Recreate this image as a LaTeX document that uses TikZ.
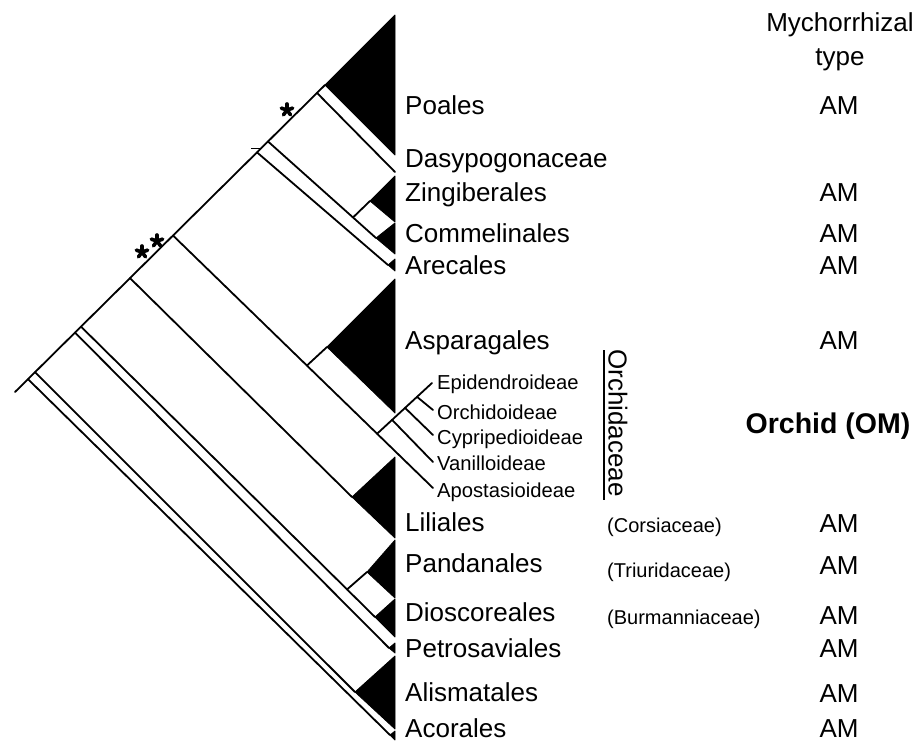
\documentclass[tikz,border=0pt]{standalone}
\usepackage{fontspec}
\setmainfont{Liberation Sans}
\usetikzlibrary{calc}
\begin{document}
\begin{tikzpicture}[x=1pt,y=-1pt,
  br/.style={line width=1.8pt, line cap=round, line join=round},
  tri/.style={fill=black, draw=black, line width=0.8pt, line join=round},
  lab/.style={anchor=base west, inner sep=0pt, font=\fontsize{26}{30}\selectfont},
  am/.style={anchor=base, inner sep=0pt, font=\fontsize{26}{30}\selectfont},
  sublab/.style={anchor=base west, inner sep=0pt, font=\fontsize{20.2}{23}\selectfont},
  famlab/.style={anchor=base west, inner sep=0pt, font=\fontsize{20}{24}\selectfont},
  aster/.pic={\foreach \a in {-90,-18,54,126,198}{\draw[line width=3.6pt, line cap=round] (0,0) -- (\a:6);}}
]
\useasboundingbox (0,0) rectangle (924,742);
% backbone
\coordinate (root) at (15,392);
\coordinate (aPoa) at (325,85);
\coordinate (nAco) at ($(root)!0.0419!(aPoa)$);
\coordinate (nAli) at ($(root)!0.0645!(aPoa)$);
\coordinate (nPet) at ($(root)!0.1935!(aPoa)$);
\coordinate (nPD)  at ($(root)!0.2129!(aPoa)$);
\coordinate (nLil) at ($(root)!0.3710!(aPoa)$);
\coordinate (nAsp) at ($(root)!0.5097!(aPoa)$);
\coordinate (nAre) at ($(root)!0.7806!(aPoa)$);
\coordinate (nZC)  at ($(root)!0.8161!(aPoa)$);
\coordinate (nDas) at ($(root)!0.9742!(aPoa)$);
% tips and apices
\coordinate (tAco) at (390,735);
\coordinate (aAli) at (355,692);
\coordinate (tPet) at (389,648);
\coordinate (aDio) at (375,617);
\coordinate (aPan) at (367,572);
\coordinate (aLil) at (352,497);
\coordinate (aAsp) at (327,347);
\coordinate (tApo) at (433,488);
\coordinate (tEpi) at (432,383);
\coordinate (tOrd) at (433,410);
\coordinate (tCyp) at (433,435);
\coordinate (tVan) at (433,462);
\coordinate (tAre) at (388,265);
\coordinate (aZin) at (370,201);
\coordinate (aCom) at (376,238);
\coordinate (tDas) at (395,172);
% inner nodes
\coordinate (xPD)  at ($(nPD)!0.905!(aDio)$);
\coordinate (xAsp) at ($(nAsp)!0.515!(tApo)$);
\coordinate (xOrc) at ($(nAsp)!0.785!(tApo)$);
\coordinate (xVan) at ($(xOrc)!0.273!(tEpi)$);
\coordinate (xCyp) at ($(xOrc)!0.509!(tEpi)$);
\coordinate (xOrd) at ($(xOrc)!0.727!(tEpi)$);
\coordinate (xZC)  at ($(nZC)!0.787!(aCom)$);

% triangles
\draw[tri] (aPoa) -- (395,15) -- (395,155) -- cycle;
\draw[tri] (aZin) -- (395,176) -- (395,222) -- cycle;
\draw[tri] (aCom) -- (395,223) -- (395,254) -- cycle;
\draw[tri] (tAre) -- (395,259) -- (395,271) -- cycle;
\draw[tri] (aAsp) -- (395,279) -- (395,413) -- cycle;
\draw[tri] (aLil) -- (395,457) -- (395,538) -- cycle;
\draw[tri] (aPan) -- (395,540) -- (395,598) -- cycle;
\draw[tri] (aDio) -- (395,599) -- (395,637) -- cycle;
\draw[tri] (tPet) -- (395,643) -- (395,653) -- cycle;
\draw[tri] (aAli) -- (395,656) -- (395,729) -- cycle;
\draw[tri] (tAco) -- (395,731) -- (395,740) -- cycle;

% branches
\draw[br] (root) -- (aPoa);
\draw[br] (nAco) -- (tAco);
\draw[br] (nAli) -- (aAli);
\draw[br] (nPet) -- (tPet);
\draw[br] (nPD) -- (aDio);
\draw[br] (xPD) -- (aPan);
\draw[br] (nLil) -- (aLil);
\draw[br] (nAsp) -- (tApo);
\draw[br] (xAsp) -- (aAsp);
\draw[br] (xOrc) -- (tEpi);
\draw[br] (xOrd) -- (tOrd);
\draw[br] (xCyp) -- (tCyp);
\draw[br] (xVan) -- (tVan);
\draw[br] (nAre) -- (tAre);
\draw[br] (nZC) -- (aCom);
\draw[br] (xZC) -- (aZin);
\draw[br] (nDas) -- (tDas);
\draw[line width=1pt] (251,148) -- (260,148);

% asterisks
\pic at (287,110) {aster};
\pic at (142,252) {aster};
\pic at (157,241) {aster};

% order labels
\node[lab] (lPoa) at (405,114) {Poales};
\node[lab] (lDas) at (405,167) {Dasypogonaceae};
\node[lab] (lZin) at (405,201) {Zingiberales};
\node[lab] (lCom) at (405,242) {Commelinales};
\node[lab] (lAre) at (405,274) {Arecales};
\node[lab] (lAsp) at (405,349) {Asparagales};
\node[lab] (lLil) at (405,531) {Liliales};
\node[lab] (lPan) at (405,572) {Pandanales};
\node[lab] (lDio) at (405,621) {Dioscoreales};
\node[lab] (lPet) at (405,657) {Petrosaviales};
\node[lab] (lAli) at (405,701) {Alismatales};
\node[lab] (lAco) at (405,737) {Acorales};

% orchid subfamilies
\node[sublab] (lEpi) at (437,389) {Epidendroideae};
\node[sublab] (lOrd) at (437,419) {Orchidoideae};
\node[sublab] (lCyp) at (437,444) {Cypripedioideae};
\node[sublab] (lVan) at (437,470) {Vanilloideae};
\node[sublab] (lApo) at (437,497) {Apostasioideae};

% Orchidaceae bar
\coordinate (barT) at (604,350);
\coordinate (barB) at (604,500);
\draw[line width=2.4pt] (barT) -- (barB);
\node[rotate=-90, inner sep=0pt, font=\fontsize{26}{30}\selectfont] (lOrc) at (618,423) {Orchidaceae};

% families in parentheses
\node[famlab] (lCor) at (607,532) {(Corsiaceae)};
\node[famlab] (lTri) at (607,577) {(Triuridaceae)};
\node[famlab] (lBur) at (607,624) {(Burmanniaceae)};

% mycorrhizal type column
\node[am] (hM) at (840,31) {Mychorrhizal};
\node[am] (hT) at (840,65) {type};
\node[am] (mPoa) at (839,114) {AM};
\node[am] (mZin) at (839,201) {AM};
\node[am] (mCom) at (839,242) {AM};
\node[am] (mAre) at (839,274) {AM};
\node[am] (mAsp) at (839,349) {AM};
\node[am, font=\fontsize{28.5}{32}\selectfont\bfseries] (mOrc) at (828,433) {Orchid (OM)};
\node[am] (mLil) at (839,532) {AM};
\node[am] (mPan) at (839,574) {AM};
\node[am] (mDio) at (839,624) {AM};
\node[am] (mPet) at (839,657) {AM};
\node[am] (mAli) at (839,702) {AM};
\node[am] (mAco) at (839,737) {AM};
\end{tikzpicture}
\end{document}
